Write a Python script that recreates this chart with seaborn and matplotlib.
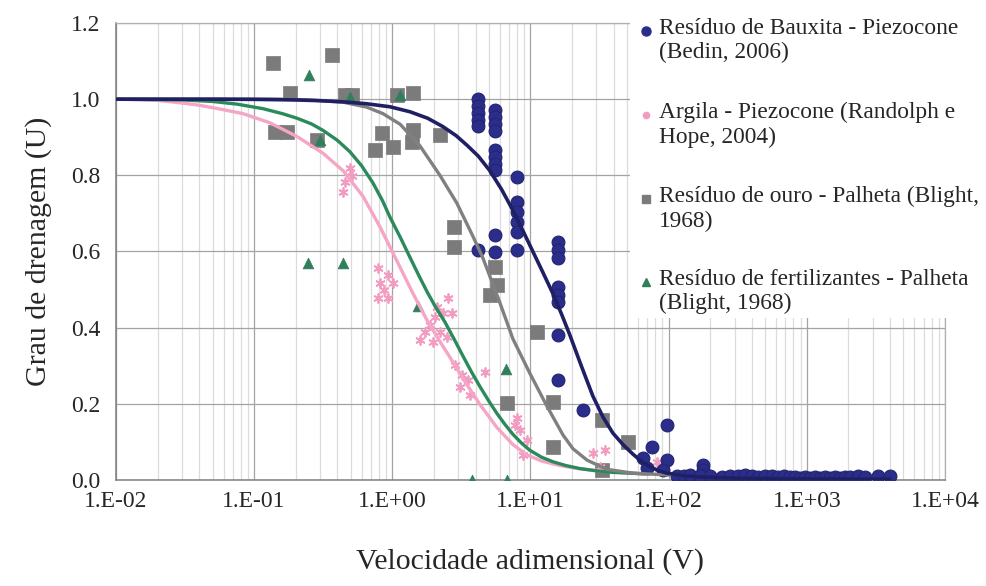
import numpy as np
import pandas as pd
import matplotlib
matplotlib.use('Agg')
import matplotlib.pyplot as plt
import seaborn as sns
from matplotlib.ticker import FixedLocator, FuncFormatter, NullFormatter
from matplotlib.lines import Line2D
from matplotlib.patches import Rectangle

sns.set_theme(style='white')
plt.rcParams['font.family'] = ['Liberation Serif', 'DejaVu Serif']

# ---- measured points (V, U) ----
baux_v = [4.16, 4.16, 4.16, 4.16, 4.16, 5.52, 5.52, 5.52, 5.52, 5.52, 5.52, 5.52, 5.52,
          7.98, 7.98, 7.98, 7.98, 7.98, 5.52, 4.16, 5.52, 7.98, 15.8, 15.8, 15.8, 15.8,
          15.8, 15.8, 15.8, 15.8, 23.9, 97.0, 75.5, 65.0, 97.0, 69.5, 90.8, 177, 177, 177,
          115, 129, 142, 168, 199, 243, 277, 317, 356, 400, 442, 497, 558, 617, 682, 754,
          819, 890, 968, 1052, 1143, 1242, 1350, 1467, 1594, 1733, 1883, 2046, 2338, 2629,
          3265, 3988]
baux_u = [1.001, 0.982, 0.964, 0.945, 0.930, 0.972, 0.953, 0.935, 0.917, 0.867, 0.848,
          0.830, 0.814, 0.796, 0.730, 0.704, 0.678, 0.651, 0.643, 0.604, 0.599, 0.604,
          0.625, 0.604, 0.583, 0.507, 0.486, 0.467, 0.381, 0.263, 0.184, 0.144, 0.087,
          0.058, 0.053, 0.032, 0.026, 0.039, 0.026, 0.013,
          0.011, 0.010, 0.012, 0.010, 0.011, 0.009, 0.011, 0.010, 0.012, 0.010, 0.009,
          0.011, 0.010, 0.008, 0.010, 0.007, 0.009, 0.006, 0.008, 0.006, 0.007, 0.005,
          0.007, 0.006, 0.008, 0.006, 0.007, 0.008, 0.010, 0.009, 0.011, 0.010]

argila_v = [0.493, 0.510, 0.454, 0.439, 0.787, 0.929, 0.813, 1.01, 0.869, 0.787, 0.929,
            2.10, 2.32, 2.70, 2.53, 2.03, 1.87, 1.72, 2.21, 2.48, 1.97, 1.58, 2.84, 3.19,
            3.52, 4.68, 3.08, 3.65, 7.98, 7.71, 8.38, 9.42, 8.81, 28.3, 34.5, 31.8, 82.2,
            94.0, 90.8]
argila_u = [0.819, 0.798, 0.783, 0.756, 0.557, 0.538, 0.517, 0.517, 0.499, 0.478, 0.478,
            0.454, 0.439, 0.439, 0.478, 0.428, 0.407, 0.389, 0.389, 0.376, 0.362, 0.368,
            0.302, 0.276, 0.263, 0.284, 0.244, 0.223, 0.163, 0.144, 0.131, 0.105, 0.066,
            0.071, 0.079, 0.034, 0.047, 0.053, 0.026]

ouro_v = [0.137, 0.366, 0.182, 0.454, 0.510, 1.08, 1.41, 0.141, 0.173, 0.284, 0.841,
          0.748, 1.01, 1.41, 1.39, 2.21, 2.79, 2.79, 5.52, 5.71, 5.08, 11.1, 14.5, 6.75,
          14.5, 32.9, 50.7, 32.9]
ouro_u = [1.095, 1.116, 1.016, 1.011, 1.011, 1.011, 1.016, 0.914, 0.914, 0.893, 0.911,
          0.867, 0.874, 0.919, 0.888, 0.906, 0.664, 0.612, 0.559, 0.512, 0.486, 0.389,
          0.205, 0.202, 0.087, 0.158, 0.100, 0.026]

fert_v = [0.249, 0.245, 0.439, 1.53, 6.64, 3.77, 6.75, 0.493, 1.14, 0.299]
fert_u = [1.064, 0.570, 0.570, 0.457, 0.291, 0.0, 0.0, 1.006, 1.011, 0.893]

# ---- fitted curves ----
baux_fit_v = [0.01, 0.05, 0.1, 0.2, 0.3, 0.44, 0.65, 0.962, 1.34, 1.8, 2.32, 2.9, 3.47,
              4.2, 5.08, 6.2, 7.46, 8.8, 10.4, 12.3, 14.5, 16.8, 19.3, 23.3, 28.3, 33.5,
              39.5, 47, 55.1, 64, 73.1, 85, 97, 130, 168, 300, 700, 3988]
baux_fit_u = [1.0, 1.0, 0.9995, 0.998, 0.996, 0.993, 0.988, 0.980, 0.967, 0.950, 0.928,
              0.904, 0.879, 0.850, 0.812, 0.762, 0.708, 0.655, 0.600, 0.545, 0.490, 0.435,
              0.380, 0.300, 0.220, 0.165, 0.123, 0.092, 0.068, 0.048, 0.035, 0.024, 0.018,
              0.011, 0.008, 0.005, 0.003, 0.002]

ouro_fit_v = [0.01, 0.146, 0.25, 0.44, 0.654, 0.855, 1.14, 1.58, 2.21, 2.93, 3.83, 4.5,
              5.08, 6.01, 7.47, 9.9, 13.1, 17.2, 20.3, 25.7, 35.7, 55.1, 102]
ouro_fit_u = [1.0, 1.0, 0.998, 0.992, 0.979, 0.962, 0.934, 0.878, 0.800, 0.727, 0.640,
              0.585, 0.535, 0.465, 0.370, 0.280, 0.195, 0.118, 0.082, 0.052, 0.028, 0.018,
              0.013]

fert_fit_v = [0.01, 0.03, 0.05, 0.075, 0.116, 0.16, 0.204, 0.26, 0.315, 0.40, 0.493, 0.6,
              0.724, 0.85, 0.962, 1.15, 1.34, 1.55, 1.78, 2.05, 2.40, 2.8, 3.25, 3.75,
              4.31, 5.0, 5.71, 6.5, 7.46, 8.6, 9.9, 12, 14.5, 18, 22.8, 30, 39.5, 67.3]
fert_fit_u = [1.0, 0.998, 0.994, 0.987, 0.975, 0.962, 0.950, 0.935, 0.918, 0.892, 0.862,
              0.825, 0.780, 0.733, 0.690, 0.635, 0.585, 0.538, 0.495, 0.455, 0.415, 0.370,
              0.325, 0.283, 0.245, 0.207, 0.175, 0.147, 0.120, 0.097, 0.078, 0.060, 0.048,
              0.038, 0.030, 0.024, 0.020, 0.016]

argila_fit_v = [0.01, 0.02, 0.03, 0.04, 0.055, 0.0829, 0.13, 0.204, 0.315, 0.44, 0.613,
                0.813, 1.08, 1.41, 1.78, 2.2, 2.74, 3.47, 4.31, 5.71, 7.46, 9.42, 12, 16.3,
                22, 31.8, 45, 67.3]
argila_fit_u = [1.0, 0.997, 0.990, 0.984, 0.975, 0.962, 0.938, 0.902, 0.858, 0.812, 0.745,
                0.665, 0.575, 0.490, 0.420, 0.365, 0.310, 0.250, 0.198, 0.138, 0.093, 0.066,
                0.050, 0.038, 0.030, 0.024, 0.020, 0.016]

labels = ['Resíduo de Bauxita - Piezocone\n(Bedin, 2006)',
          'Argila - Piezocone (Randolph e\nHope, 2004)',
          'Resíduo de ouro - Palheta (Blight,\n1968)',
          'Resíduo de fertilizantes - Palheta\n(Blight, 1968)']

navy_pt, navy_ln = '#2b2d8a', '#1f2063'
pink_pt, pink_ln = '#f39cc2', '#f5a5c5'
gray_pt, gray_ln = '#7b7b7b', '#808080'
green_pt, green_ln = '#2f7f5a', '#2b8a5c'
txt = '#262626'

fig = plt.figure(figsize=(9.87, 5.86), dpi=100)
ax = fig.add_axes([116 / 987, 1 - 480 / 586, 829 / 987, 457 / 586])

# scatter series
sns.scatterplot(x=ouro_v, y=ouro_u, marker='s', s=95, color=gray_pt, edgecolor=gray_pt,
                linewidth=0.5, ax=ax, zorder=3)
sns.scatterplot(x=fert_v, y=fert_u, marker='^', s=60, color=green_pt, edgecolor=green_pt,
                linewidth=0.5, ax=ax, zorder=3)
sns.scatterplot(x=argila_v, y=argila_u, marker=(6, 2, 0), s=40, color=pink_pt,
                edgecolor=pink_pt, linewidth=1.3, ax=ax, zorder=3)
sns.scatterplot(x=baux_v, y=baux_u, marker='o', s=85, color=navy_pt, edgecolor='#23246e',
                linewidth=0.8, ax=ax, zorder=3)

# fitted curves
for cv, cu, col, w in [(argila_fit_v, argila_fit_u, pink_ln, 2.4),
                       (fert_fit_v, fert_fit_u, green_ln, 2.4),
                       (ouro_fit_v, ouro_fit_u, gray_ln, 2.4),
                       (baux_fit_v, baux_fit_u, navy_ln, 2.6)]:
    sns.lineplot(x=cv, y=cu, color=col, lw=w, sort=False, estimator=None, ax=ax, zorder=4)

ax.set_xscale('log')
ax.set_xlim(1e-2, 1e4)
ax.set_ylim(0, 1.2)

decades = [1e-2, 1e-1, 1e0, 1e1, 1e2, 1e3, 1e4]
ax.xaxis.set_major_locator(FixedLocator(decades))
ax.xaxis.set_minor_locator(FixedLocator([m * d for d in decades[:-1] for m in range(2, 10)]))
ax.xaxis.set_major_formatter(FuncFormatter(lambda v, p: '1.E%+03d' % round(np.log10(v))))
ax.xaxis.set_minor_formatter(NullFormatter())
ax.set_yticks([0, 0.2, 0.4, 0.6, 0.8, 1.0, 1.2])
ax.yaxis.set_major_formatter(FuncFormatter(lambda v, p: '%.1f' % v))

ax.grid(True, which='major', axis='both', color='#a3a3a3', lw=0.9)
ax.grid(True, which='minor', axis='x', color='#dcdcdc', lw=0.9)
ax.set_axisbelow(True)
for side in ['left', 'bottom']:
    ax.spines[side].set_color('#7f7f7f')
    ax.spines[side].set_linewidth(1.1)
for side in ['top', 'right']:
    ax.spines[side].set_color('#b0b0b0')
    ax.spines[side].set_linewidth(0.9)

ax.tick_params(axis='both', which='both', length=0, labelsize=17, colors=txt)
ax.tick_params(axis='y', pad=11)
ax.tick_params(axis='x', pad=8)
ax.set_xlabel('Velocidade adimensional (V)', fontsize=21.5, color=txt, labelpad=26)
ax.set_ylabel('Grau de drenagem (U)', fontsize=21.5, color=txt, labelpad=14)

# legend block (white box over the upper right of the plot)
fig.add_artist(Rectangle((630 / 987, 1 - 318 / 586), 357 / 987, 312 / 586,
                         transform=fig.transFigure, facecolor='white', edgecolor='none',
                         zorder=5))
leg_marks = [('o', navy_pt, 6.5), ('o', pink_pt, 4.5), ('s', gray_pt, 6), ('^', green_pt, 6)]
leg_y = [31, 115, 199, 282]
for (mk, col, ms), lab, yy in zip(leg_marks, labels, leg_y):
    fig.add_artist(Line2D([646 / 987], [1 - yy / 586], transform=fig.transFigure,
                          marker=mk, color=col, markersize=ms, ls='', zorder=6))
    fig.text(659 / 987, 1 - (yy - 13) / 586, lab, fontsize=16.8, color=txt,
             va='top', ha='left', linespacing=1.2, zorder=6)

fig.savefig('out.png', dpi=100)
